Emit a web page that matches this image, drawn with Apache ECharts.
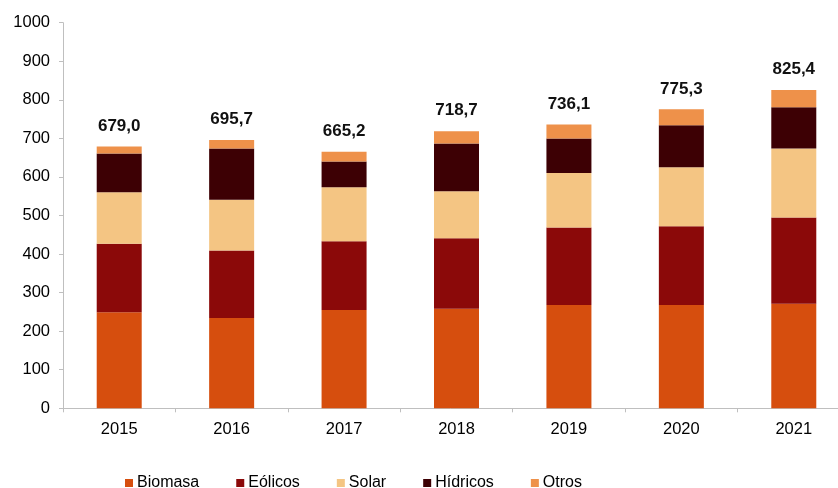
<!DOCTYPE html>
<html>
<head>
<meta charset="utf-8">
<script src="https://cdn.jsdelivr.net/npm/echarts@6/dist/echarts.min.js"></script>
<style>
html,body{margin:0;padding:0;background:#fff;}
#chart{width:838px;height:488px;}
</style>
</head>
<body>
<div id="chart"></div>
<script>
const categories = ['2015', '2016', '2017', '2018', '2019', '2020', '2021'];
const biomasa = [249, 234, 255, 258, 268, 268, 271];
const eolicos = [178, 175, 178, 183, 201, 204, 224];
const solar = [133, 132, 140, 122, 141, 153, 179];
const hidricos = [101, 133, 67, 124, 90, 109, 107];
const otros = [18.0, 21.7, 25.2, 31.7, 36.1, 41.3, 44.4];
const totals = [679.0, 695.7, 665.2, 718.7, 736.1, 775.3, 825.4];
const yTicks = [0, 100, 200, 300, 400, 500, 600, 700, 800, 900, 1000];

const FONT = "'Liberation Sans', Arial, sans-serif";
const chart = echarts.init(document.getElementById('chart'));

function bar(name, data, color, extra) {
  return Object.assign({
    name: name,
    type: 'bar',
    stack: 'total',
    data: data,
    barWidth: 45,
    itemStyle: { color: color },
    emphasis: { disabled: true }
  }, extra || {});
}

chart.setOption({
  animation: false,
  textStyle: { fontFamily: FONT },
  grid: { left: 63, top: 22.7, width: 787, height: 385.6, outerBoundsMode: 'none', containLabel: false },
  legend: {
    left: 120,
    top: 470,
    itemWidth: 8,
    itemHeight: 8,
    itemGap: 37,
    icon: 'rect',
    textStyle: { fontFamily: FONT, fontSize: 16, color: '#000', padding: [0, 0, 0, -1] },
    data: ['Biomasa', 'Eólicos', 'Solar', 'Hídricos', 'Otros']
  },
  xAxis: {
    type: 'category',
    data: categories,
    axisLine: { lineStyle: { color: '#bfbfbf', width: 1 } },
    axisTick: { show: true, length: 4, lineStyle: { color: '#bfbfbf' } },
    axisLabel: { fontFamily: FONT, fontSize: 16.5, color: '#000', margin: 13 }
  },
  yAxis: {
    type: 'value',
    min: yTicks[0],
    max: yTicks[yTicks.length - 1],
    interval: yTicks[1] - yTicks[0],
    splitLine: { show: false },
    axisLine: { show: true, lineStyle: { color: '#bfbfbf', width: 1 } },
    axisTick: { show: true, length: 4, lineStyle: { color: '#bfbfbf' } },
    axisLabel: { fontFamily: FONT, fontSize: 16.5, color: '#000', margin: 13, formatter: function (v) { return String(v); } }
  },
  series: [
    bar('Biomasa', biomasa, '#d64e0e'),
    bar('Eólicos', eolicos, '#8b0909'),
    bar('Solar', solar, '#f4c583'),
    bar('Hídricos', hidricos, '#3d0004'),
    bar('Otros', otros, '#ee914a', {
      label: {
        show: true,
        position: 'top',
        distance: 12,
        fontFamily: FONT,
        fontSize: 17,
        fontWeight: 'bold',
        color: '#111',
        formatter: function (p) { return totals[p.dataIndex].toFixed(1).replace('.', ','); }
      }
    })
  ]
});
</script>
</body>
</html>
